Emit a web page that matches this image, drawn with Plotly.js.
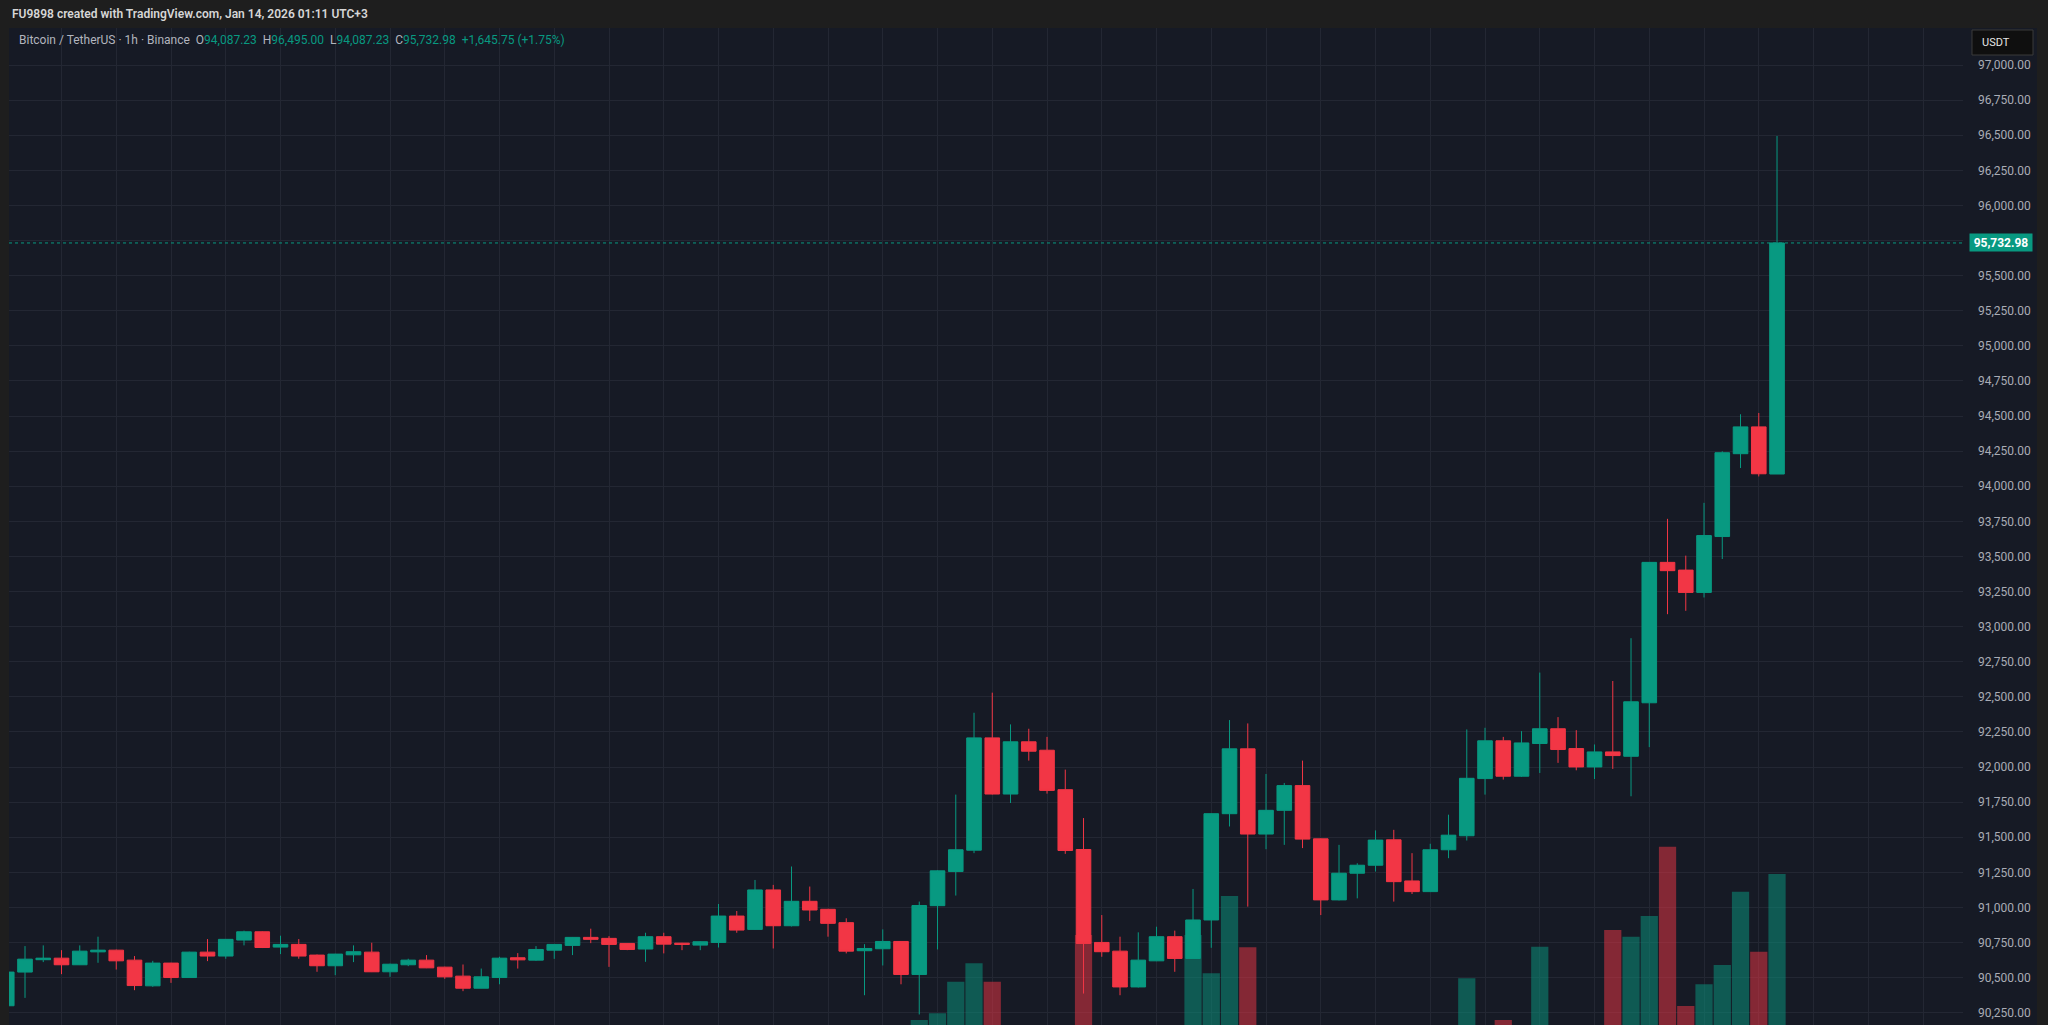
<!DOCTYPE html>
<html><head><meta charset="utf-8">
<script src="https://cdn.plot.ly/plotly-3.0.1.min.js"></script>
<style>html,body{margin:0;padding:0;background:#1e1e1e;overflow:hidden}#chart{width:2048px;height:1025px}</style>
</head><body><div id="chart"></div>
<script>
// Bitcoin / TetherUS, 1h candles, Binance: first candle 2026-01-10 00:00 (UTC+3)
const firstCandleUTC = Date.UTC(2026, 0, 10, 0, 0, 0);
const open = [
 90300,90540,90628,90639,90592,90684,90696,90625,90442,90604,
 90501,90682,90654,90768,90827,90718,90737,90661,90585,90663,
 90682,90542,90592,90625,90575,90511,90425,90501,90642,90625,
 90696,90730,90787,90780,90744,90704,90792,90746,90732,90751,
 90939,90844,91125,90870,91044,90987,90892,90692,90706,90758,
 90523,91013,91256,91408,92208,91808,92180,92120,91839,91413,
 90751,90689,90434,90620,90792,90637,90911,91668,92130,91523,
 91692,91868,91489,91054,91244,91301,91482,91189,91113,91411,
 91511,91918,92187,91935,92168,92273,92132,92001,92108,92077,
 92458,93458,93403,93244,93642,94232,94423,94087.23];
const high = [
 90560,90725,90730,90696,90730,90792,90700,90654,90620,90606,
 90685,90775,90775,90835,90830,90799,90775,90665,90670,90730,
 90749,90600,90635,90661,90578,90594,90565,90649,90675,90725,
 90740,90790,90849,90796,90746,90820,90820,90748,90760,91025,
 90975,91196,91161,91292,91149,90990,90923,90739,90844,90760,
 91042,91265,91804,92387,92530,92304,92273,92215,91982,91637,
 90946,90792,90823,90863,90835,91132,91670,92335,92311,91951,
 91887,92046,91492,91446,91315,91549,91553,91387,91454,91661,
 92268,92280,92215,92256,92673,92356,92263,92161,92613,92918,
 93460,93768,93506,93882,94249,94513,94522,96495.00];
const low = [
 90290,90356,90611,90525,90590,90606,90558,90411,90435,90463,
 90498,90618,90635,90730,90711,90668,90635,90542,90518,90611,
 90540,90506,90582,90568,90492,90404,90424,90453,90565,90620,
 90634,90661,90746,90577,90696,90613,90673,90696,90696,90715,
 90820,90840,90708,90865,90904,90792,90673,90375,90587,90453,
 90238,90701,91085,91387,91805,91744,92046,91811,91382,90387,
 90649,90375,90430,90618,90542,90635,90713,91577,91006,91415,
 91446,91423,90946,91050,91065,91256,91042,91096,91110,91351,
 91477,91804,91911,91930,91958,92030,91977,91915,91987,91792,
 92142,93089,93113,93208,93482,94130,94070,94087.23];
const close = [
 90540,90632,90639,90592,90689,90696,90620,90444,90604,90501,
 90682,90654,90773,90827,90715,90737,90654,90585,90668,90685,
 90542,90596,90625,90570,90506,90425,90506,90639,90627,90701,
 90737,90787,90773,90737,90701,90792,90739,90737,90756,90939,
 90839,91125,90870,91044,90982,90887,90689,90708,90758,90523,
 91014,91261,91411,92208,91808,92180,92113,91834,91406,90744,
 90685,90434,90625,90792,90637,90911,91668,92130,91523,91692,
 91868,91487,91054,91244,91301,91480,91184,91113,91411,91515,
 91920,92187,91935,92172,92273,92125,92001,92108,92082,92465,
 93458,93399,93244,93649,94239,94423,94089,95732.98];
const volume = [
 620,880,540,610,700,650,520,900,760,580,
 690,560,640,720,610,480,570,600,540,470,
 680,520,430,500,560,720,600,780,520,560,
 540,610,480,700,420,590,520,380,420,1150,
 820,1240,1180,1320,900,760,880,1050,820,1100,
 1564,1639,1992,2198,1992,1380,980,1050,1420,2514,
 1180,1350,1240,960,1020,2514,2086,2950,2377,1280,
 1100,1320,1250,880,640,920,1040,760,980,1120,
 2030,1420,1564,1260,2383,1180,1050,880,2570,2495,
 2726,3501,1721,1963,2179,2998,2327,3196];
const lastPrice = 95732.98;
const changeText = '+1,645.75 (+1.75%)';
const priceTicks = [90250,90500,90750,91000,91250,91500,91750,92000,92250,92500,92750,93000,93250,93500,93750,94000,94250,94500,94750,95000,95250,95500,95750,96000,96250,96500,96750,97000];
const hiddenTickLabels = [95750]; // covered by the last-price label

const UP = '#089981', DOWN = '#f23645';
function pad(n){return String(n).padStart(2,'0');}
function fmt(v){return v.toLocaleString('en-US', {minimumFractionDigits: 2, maximumFractionDigits: 2});}
const times = open.map((_, i) => {
  const d = new Date(firstCandleUTC + i * 3600000);
  return d.getUTCFullYear() + '-' + pad(d.getUTCMonth()+1) + '-' + pad(d.getUTCDate()) + ' ' + pad(d.getUTCHours()) + ':00:00';
});
const volColors = open.map((o, i) => close[i] >= o ? 'rgba(8,153,129,0.5)' : 'rgba(242,54,69,0.5)');

const W = 2048, H = 1025, ML = 9, MR = 85, MT = 28, MB = 0;
const PW = W - ML - MR, PH = H - MT - MB;
const px = X => (X - ML) / PW;
const py = Y => (H - MB - Y) / PH;

const volTrace = {
  type: 'bar', x: times, y: volume, xaxis: 'x', yaxis: 'y',
  marker: {color: volColors, line: {width: 0}}, width: 3400000, hoverinfo: 'skip'
};
const candle = {
  type: 'candlestick', x: times, open: open, high: high, low: low, close: close,
  xaxis: 'x', yaxis: 'y2', whiskerwidth: 0,
  increasing: {line: {color: UP, width: 1}, fillcolor: UP},
  decreasing: {line: {color: DOWN, width: 1}, fillcolor: DOWN},
  hoverinfo: 'skip'
};

const n = open.length - 1;
const sp = '&nbsp;&nbsp;';
const val = v => '<span style="color:' + UP + '">' + v + '</span>';
const legendText = 'Bitcoin / TetherUS · 1h · Binance' + sp + 'O' + val(fmt(open[n])) + sp + 'H' + val(fmt(high[n])) +
  sp + 'L' + val(fmt(low[n])) + sp + 'C' + val(fmt(close[n])) + sp + val(changeText);

const grid = '#232733';
const layout = {
  width: W, height: H,
  margin: {l: ML, r: MR, t: MT, b: MB, pad: 0},
  paper_bgcolor: '#1e1e1e', plot_bgcolor: '#161a25',
  font: {family: 'Roboto, "Noto Sans", sans-serif', color: '#b2b5be', size: 12},
  showlegend: false, hovermode: false, dragmode: false,
  boxgap: 0.2, boxgroupgap: 0,
  bargap: 0.05,
  xaxis: {
    type: 'date', range: ['2026-01-10 00:07:24', '2026-01-14 11:11:24'],
    showgrid: true, gridcolor: grid, gridwidth: 1, dtick: 10800000, tick0: '2026-01-10 00:00:00',
    showticklabels: false, ticks: '', zeroline: false, showline: false,
    rangeslider: {visible: false}, fixedrange: true
  },
  yaxis: {
    range: [1508, 12648], visible: false, showgrid: false, zeroline: false, fixedrange: true
  },
  yaxis2: {
    overlaying: 'y', side: 'right', range: [90163, 97264],
    tickmode: 'array', tickvals: priceTicks,
    ticktext: priceTicks.map(v => hiddenTickLabels.includes(v) ? '' : fmt(v)),
    showgrid: true, gridcolor: grid, gridwidth: 1, zeroline: false, showline: false,
    ticks: '', ticklabelstandoff: 14, tickfont: {size: 12, color: '#a9acb5'}, fixedrange: true
  },
  shapes: [
    {type: 'rect', xref: 'paper', yref: 'paper', x0: px(9), x1: px(2037), y0: 0, y1: 1,
     fillcolor: '#161a25', line: {width: 0}, layer: 'below'},
    {type: 'line', xref: 'paper', yref: 'y2', x0: 0, x1: 1, y0: lastPrice, y1: lastPrice,
     line: {color: UP, width: 1, dash: 'dot'}},
    {type: 'rect', xref: 'paper', yref: 'paper', x0: px(1972), x1: px(2033), y0: py(55), y1: py(30),
     fillcolor: '#0f0f0f', line: {color: '#3a3a3a', width: 1}}
  ],
  annotations: [
    {xref: 'paper', yref: 'paper', x: px(10), y: py(14), xanchor: 'left', yanchor: 'middle', showarrow: false,
     text: 'FU9898 created with TradingView.com, Jan 14, 2026 01:11 UTC+3', font: {size: 12, color: '#d6d6d6', weight: 600}},
    {xref: 'paper', yref: 'paper', x: px(17), y: py(40.5), xanchor: 'left', yanchor: 'middle', showarrow: false,
     font: {size: 12, color: '#b2b5be'}, text: legendText},
    {xref: 'paper', yref: 'paper', x: px(1980), y: py(42.5), xanchor: 'left', yanchor: 'middle', showarrow: false,
     text: 'USDT', font: {size: 11, color: '#e6e6e6'}},
    {xref: 'paper', yref: 'y2', x: px(2001), y: lastPrice, xanchor: 'center', yanchor: 'middle', showarrow: false,
     text: '<b>' + fmt(lastPrice) + '</b>', font: {size: 12, color: '#ffffff'}, bgcolor: UP, width: 60, height: 15, borderpad: 1}
  ]
};
Plotly.newPlot('chart', [volTrace, candle], layout, {displayModeBar: false, staticPlot: true});
</script>
</body></html>
